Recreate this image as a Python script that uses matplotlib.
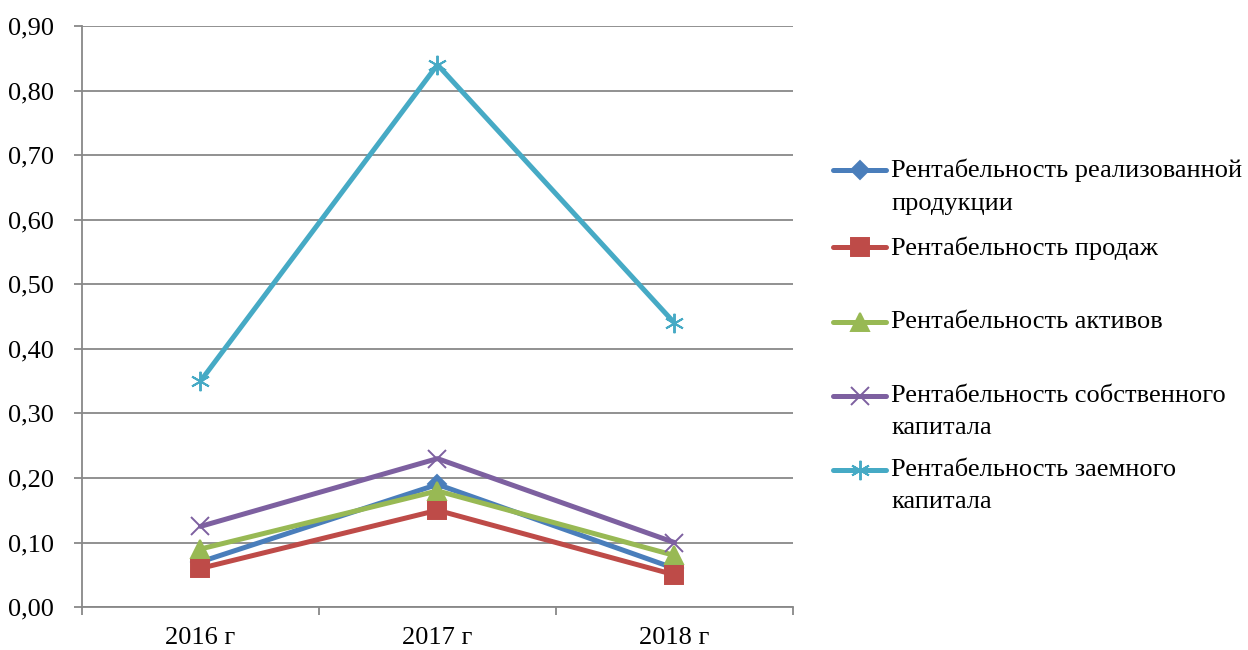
import matplotlib.pyplot as plt
from matplotlib.lines import Line2D

plt.rcParams['font.family'] = ['Liberation Serif', 'DejaVu Serif']

# Годы и показатели рентабельности
years = ['2016 г', '2017 г', '2018 г']
r_prod = [0.07, 0.19, 0.06]
r_sales = [0.06, 0.15, 0.05]
r_assets = [0.09, 0.18, 0.08]
r_equity = [0.125, 0.23, 0.10]
r_debt = [0.35, 0.84, 0.44]

names = ['Рентабельность реализованной\nпродукции',
         'Рентабельность продаж',
         'Рентабельность активов',
         'Рентабельность собственного\nкапитала',
         'Рентабельность заемного\nкапитала']
colors = ['#4A7EBB', '#BE4B48', '#98B954', '#7D60A0', '#46AAC5']
markers = ['D', 's', '^', 'x', (6, 2, 0)]
msizes = [9, 13, 13, 13, 14]
series = [r_prod, r_sales, r_assets, r_equity, r_debt]

fs = 19

fig = plt.figure(figsize=(12.48, 6.5), dpi=100)
ax = fig.add_axes([0.0657, 0.066, 0.5697, 0.894])

xs = [0.5, 1.5, 2.5]
for vals, c, m, ms in zip(series, colors, markers, msizes):
    ax.plot(xs, vals, color=c, lw=3.6, marker=m, markersize=ms,
            markeredgewidth=1.4, markeredgecolor=c, markerfacecolor=c,
            solid_capstyle='round', zorder=3)

ax.set_xlim(0, 3)
ax.set_ylim(0, 0.9)
ax.set_yticks([i / 10 for i in range(10)])
ax.set_yticklabels([('%.2f' % (i / 10)).replace('.', ',') for i in range(10)],
                   fontsize=fs)
ax.set_xticks([0, 1, 2, 3])
ax.set_xticklabels([])
ax.set_xticks(xs, minor=True)
ax.set_xticklabels(years, minor=True, fontsize=fs)
ax.tick_params(axis='x', which='minor', length=0, pad=14)
ax.tick_params(axis='x', which='major', length=6, color='#888888', width=1.3)
ax.tick_params(axis='y', length=6, color='#888888', width=1.3, pad=14)

ax.grid(axis='y', color='#888888', lw=1.3)
ax.set_axisbelow(True)
for s in ['top', 'right']:
    ax.spines[s].set_visible(False)
for s in ['left', 'bottom']:
    ax.spines[s].set_color('#888888')
    ax.spines[s].set_linewidth(1.3)

# Легенда справа
lax = fig.add_axes([0, 0, 1, 1], facecolor='none')
lax.set_xlim(0, 1248)
lax.set_ylim(650, 0)
lax.axis('off')
rows = [170, 247, 322, 396, 470]
for name, c, m, ms, y in zip(names, colors, markers, msizes, rows):
    lax.add_line(Line2D([833, 886], [y, y], color=c, lw=3.6,
                        solid_capstyle='round'))
    lax.add_line(Line2D([859.5], [y], color=c, marker=m, markersize=ms,
                        markeredgewidth=1.4, markerfacecolor=c,
                        markeredgecolor=c))
    lax.text(891, y - 11, name, fontsize=fs, va='top', ha='left',
             linespacing=1.6)

fig.savefig('out.png', dpi=100)
